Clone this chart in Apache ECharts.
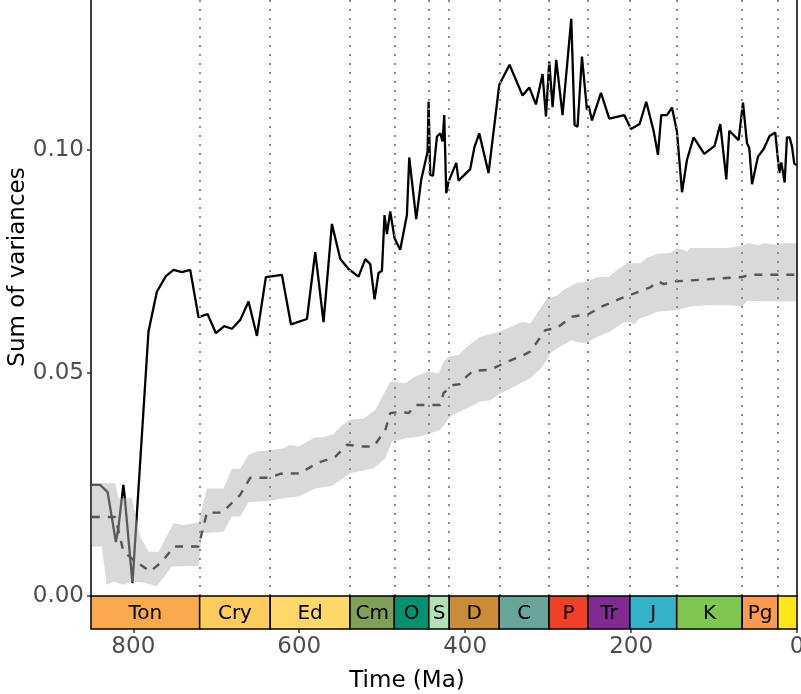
<!DOCTYPE html>
<html><head><meta charset="utf-8">
<script src="https://cdn.jsdelivr.net/npm/echarts@6/dist/echarts.min.js"></script>
<style>html,body{margin:0;padding:0;background:#fff}#chart{width:801px;height:694px}</style>
</head><body><div id="chart"></div>
<script>
// Observed sum of variances (solid black line)
const solidAge = [850,840,831,821,818,812,810.6,801,781.7,771.6,760.7,751.5,741.4,731.4,721.4,710.5,700.4,690.4,681.1,671.1,661.1,651,640.2,620.9,610,590.7,580.7,570.7,560.6,550.6,540.6,528.5,520.4,514.4,509.2,504.4,500.3,497.2,494.3,490.3,485.1,478.3,470.2,467.4,459,453,445.3,444.1,442.1,438.8,434,430,427.2,425.2,422.8,420,410.7,408,393.9,388.7,383,371.8,358.9,346.5,330.8,322.7,314.7,306.7,302.6,298.6,294.6,290.2,282.6,272.1,268.1,264.5,259.2,253.2,251.2,247.1,236.3,226.3,208.2,200.1,189.7,181.7,172.9,167.6,163.6,156.7,150.7,144.7,138.6,132.6,124.6,111.8,99.3,92.5,85.2,81.6,70.4,65.1,60.3,57.5,54.2,47,40.2,33,26.2,21.3,18.9,14.9,12.1,8.9,6,3.3,0];
const solidVal = [0.0249,0.0249,0.0233,0.0121,0.0152,0.0249,0.0226,0.0029,0.0593,0.0682,0.0717,0.0731,0.0726,0.0731,0.0625,0.0632,0.0589,0.0605,0.0599,0.0619,0.0660,0.0583,0.0715,0.0720,0.0609,0.0621,0.0771,0.0614,0.0834,0.0756,0.0733,0.0716,0.0755,0.0744,0.0665,0.0724,0.0729,0.0854,0.0811,0.0862,0.0802,0.0776,0.0854,0.0983,0.0845,0.0933,0.0996,0.1108,0.0944,0.0942,0.1030,0.1037,0.1019,0.1078,0.0903,0.0929,0.0971,0.0931,0.0957,0.1007,0.1037,0.0948,0.1146,0.1191,0.1122,0.1140,0.1102,0.1170,0.1075,0.1198,0.1096,0.1202,0.1078,0.1294,0.1056,0.1052,0.1209,0.1090,0.1099,0.1066,0.1128,0.1070,0.1078,0.1047,0.1058,0.1108,0.1043,0.0989,0.1078,0.1078,0.1095,0.1041,0.0905,0.0978,0.1028,0.0991,0.1009,0.1058,0.0934,0.1043,0.1022,0.1106,0.1015,0.1004,0.0923,0.0985,0.1002,0.1031,0.1039,0.0948,0.0972,0.0927,0.1028,0.1028,0.1007,0.0969,0.0966];

// Null-model mean (dashed line)
const meanAge = [850,821.8,811.8,799.8,779.6,765.5,750.8,721.4,711.3,692.9,671.1,659.1,636.2,622.9,598.8,578.7,556.6,542.5,522.5,510.4,496.3,490.3,476,468,460.2,430.1,426,414.3,406,397.8,389.9,369.7,349.6,329.6,321.5,303.4,289.3,271.2,251.2,235.1,215.1,197.7,176.9,166.8,160.8,148.8,66.3,58.3,0];
const meanVal = [0.0177,0.0177,0.0099,0.0081,0.0055,0.0077,0.0111,0.0111,0.0187,0.0187,0.0227,0.0265,0.0265,0.0274,0.0275,0.0298,0.0312,0.0339,0.0335,0.0335,0.0372,0.0410,0.0413,0.0410,0.0428,0.0428,0.0455,0.0473,0.0475,0.0493,0.0505,0.0507,0.0525,0.0540,0.0548,0.0596,0.0601,0.0626,0.0632,0.0649,0.0665,0.0677,0.0692,0.0705,0.0699,0.0705,0.0715,0.0720,0.0720];

// Envelope (grey ribbon)
const upperAge = [850,821.8,817.8,801.7,791.7,781.7,769.6,751.5,739.5,721.4,711.3,691.3,681.1,671.1,661.1,651,637,618.9,610.9,600.8,580.7,570.7,558.6,548.5,538.5,522.5,508.4,490.3,472.2,460.2,444.1,432.1,426,420,408,397.8,389.9,381.8,357.7,331.5,321.5,301.4,289.3,281.4,271.2,265.2,253.2,241.1,227.1,217,205,188.9,180.8,167.2,152.7,144.7,132.6,128.6,82.8,66.3,58.3,46.7,38.2,24.1,16.2,0];
const upperVal = [0.0253,0.0253,0.0219,0.0219,0.0133,0.0099,0.0099,0.0163,0.0159,0.0165,0.0241,0.0241,0.0285,0.0285,0.0316,0.0324,0.0326,0.0331,0.0339,0.0335,0.0356,0.0356,0.0363,0.0383,0.0395,0.0398,0.0417,0.0480,0.0477,0.0492,0.0503,0.0499,0.0525,0.0537,0.0540,0.0559,0.0570,0.0581,0.0593,0.0615,0.0611,0.0667,0.0673,0.0686,0.0696,0.0702,0.0704,0.0715,0.0715,0.0731,0.0746,0.0746,0.0758,0.0767,0.0769,0.0780,0.0772,0.0780,0.0780,0.0785,0.0791,0.0787,0.0791,0.0787,0.0791,0.0791];
const lowerAge = [850,838,832,824,811.8,801.7,787.7,771.6,753.5,721.4,717,691.3,681.1,671.1,661.1,637,618.9,600.8,580.7,560.6,548.5,538.5,510.4,496.3,488.2,470.2,456.2,442.1,430,424,418,409.9,393.9,381.8,369.8,357.7,341.6,321.5,308.3,301.4,297.4,289.3,271.2,267.3,257.3,251.2,241.1,225.1,209,201,197,188.9,176.9,168.8,144.7,128.6,108.5,80.4,66.3,60.3,0];
const lowerVal = [0.0111,0.0111,0.0025,0.0032,0.0025,0.0032,0.0030,0.0022,0.0066,0.0068,0.0141,0.0144,0.0178,0.0178,0.0210,0.0213,0.0219,0.0223,0.0241,0.0247,0.0262,0.0275,0.0286,0.0309,0.0346,0.0354,0.0357,0.0365,0.0372,0.0387,0.0402,0.0410,0.0424,0.0436,0.0439,0.0454,0.0469,0.0488,0.0511,0.0529,0.0544,0.0555,0.0574,0.0570,0.0567,0.0570,0.0581,0.0593,0.0613,0.0615,0.0608,0.0623,0.0630,0.0637,0.0641,0.0649,0.0652,0.0652,0.0649,0.0661,0.0660];

// Geological time scale
const periodName  = ['Ton','Cry','Ed','Cm','O','S','D','C','P','Tr','J','K','Pg',''];
const periodStart = [1000,720,635,538.8,485.4,443.8,419.2,358.9,298.9,251.9,201.4,145,66,23.03];
const periodEnd   = [720,635,538.8,485.4,443.8,419.2,358.9,298.9,251.9,201.4,145,66,23.03,0];
const periodColor = ['#FBA94F','#FECC5C','#FED96A','#7FA056','#009270','#B3E1B6','#CB8C37','#67A599','#F04028','#812B92','#34B2C9','#7FC64E','#FD9A52','#FFE619'];
const boundaries  = [720,635,538.8,485.4,443.8,419.2,358.9,298.9,251.9,201.4,145,66,23.03];

const xTicks = [0,200,400,600,800];
const yTicks = [0,0.05,0.10];
const X_MAX = 851;
const Y_MAX = 0.1336;

const FONT = 'DejaVu Sans';
const chart = echarts.init(document.getElementById('chart'), null, {renderer:'canvas'});

const zip = (a,b) => a.map((v,i)=>[v,b[i]]);

chart.setOption({
  animation:false,
  backgroundColor:'#fff',
  grid:[
    {left:91, right:4, top:0, height:596, containLabel:false, outerBoundsMode:'none'},
    {left:91, right:4, top:596, height:33, containLabel:false, outerBoundsMode:'none'}
  ],
  xAxis:[
    {gridIndex:0, type:'value', min:0, max:X_MAX, inverse:true, show:false},
    {gridIndex:1, type:'value', min:0, max:X_MAX, inverse:true, interval:200,
     axisLine:{show:false}, splitLine:{show:false},
     axisTick:{show:true, length:4, customValues:xTicks, lineStyle:{color:'#333', width:1.5}},
     axisLabel:{show:true, customValues:xTicks, margin:7, color:'#4d4d4d', fontSize:23, fontFamily:FONT}}
  ],
  yAxis:[
    {gridIndex:0, type:'value', min:0, max:Y_MAX, interval:0.05, position:'left',
     axisLine:{show:true, onZero:false, lineStyle:{color:'#000', width:1.5}},
     axisTick:{show:true, length:4, customValues:yTicks, lineStyle:{color:'#333', width:1.5}},
     axisLabel:{show:true, customValues:yTicks, margin:7, color:'#4d4d4d', fontSize:23, fontFamily:FONT,
       formatter:v=>v.toFixed(2)},
     splitLine:{show:false}},
    {gridIndex:1, type:'value', min:0, max:1, show:false}
  ],
  graphic:[
    {type:'text', x:407, y:681, style:{text:'Time (Ma)', font:'23px "'+FONT+'"', fill:'#000', align:'center', verticalAlign:'middle'}},
    {type:'text', x:18.5, y:267, rotation:Math.PI/2, style:{text:'Sum of variances', font:'23px "'+FONT+'"', fill:'#000', align:'center', verticalAlign:'middle'}}
  ],
  series:[
    {
      type:'line', xAxisIndex:0, yAxisIndex:0, data:[], z:1, silent:true,
      markLine:{silent:true, symbol:['none','none'], label:{show:false}, animation:false,
        lineStyle:{type:[2,7], color:'#8c8c8c', width:2},
        data: boundaries.map(b=>({xAxis:b})).concat([{xAxis:0, lineStyle:{type:'solid', color:'#000', width:1.5}}])}
    },
    {
      type:'line', xAxisIndex:0, yAxisIndex:0, z:2, silent:true,
      data: zip(solidAge, solidVal), showSymbol:false, symbol:'none',
      lineStyle:{color:'#000', width:2.3}
    },
    {
      type:'custom', xAxisIndex:0, yAxisIndex:0, z:3, silent:true,
      data:[[0,0]],
      renderItem:function(params, api){
        const pts = [];
        for (let i=0;i<upperAge.length;i++) pts.push(api.coord([upperAge[i], upperVal[i]]));
        for (let i=lowerAge.length-1;i>=0;i--) pts.push(api.coord([lowerAge[i], lowerVal[i]]));
        return {type:'polygon', shape:{points:pts}, style:{fill:'rgba(179,179,179,0.5)'}};
      }
    },
    {
      type:'line', xAxisIndex:0, yAxisIndex:0, z:4, silent:true,
      data: zip(meanAge, meanVal), showSymbol:false, symbol:'none',
      lineStyle:{color:'#555555', width:2.4, type:[8,8]}
    },
    {
      type:'custom', xAxisIndex:1, yAxisIndex:1, z:5, silent:true,
      data: periodName.map((n,i)=>[periodStart[i], periodEnd[i]]),
      renderItem:function(params, api){
        const i = params.dataIndex;
        const s = Math.min(periodStart[i], X_MAX), e = periodEnd[i];
        const p0 = api.coord([s, 1]), p1 = api.coord([e, 0]);
        return {type:'group', children:[
          {type:'rect', shape:{x:p0[0], y:p0[1], width:p1[0]-p0[0], height:p1[1]-p0[1]},
           style:{fill:periodColor[i], stroke:'#000', lineWidth:1.5}},
          {type:'text', style:{text:periodName[i], x:(p0[0]+p1[0])/2, y:(p0[1]+p1[1])/2+1,
            align:'center', verticalAlign:'middle', font:'20px "'+FONT+'"', fill:'#000'}}
        ]};
      }
    }
  ]
});
</script></body></html>
